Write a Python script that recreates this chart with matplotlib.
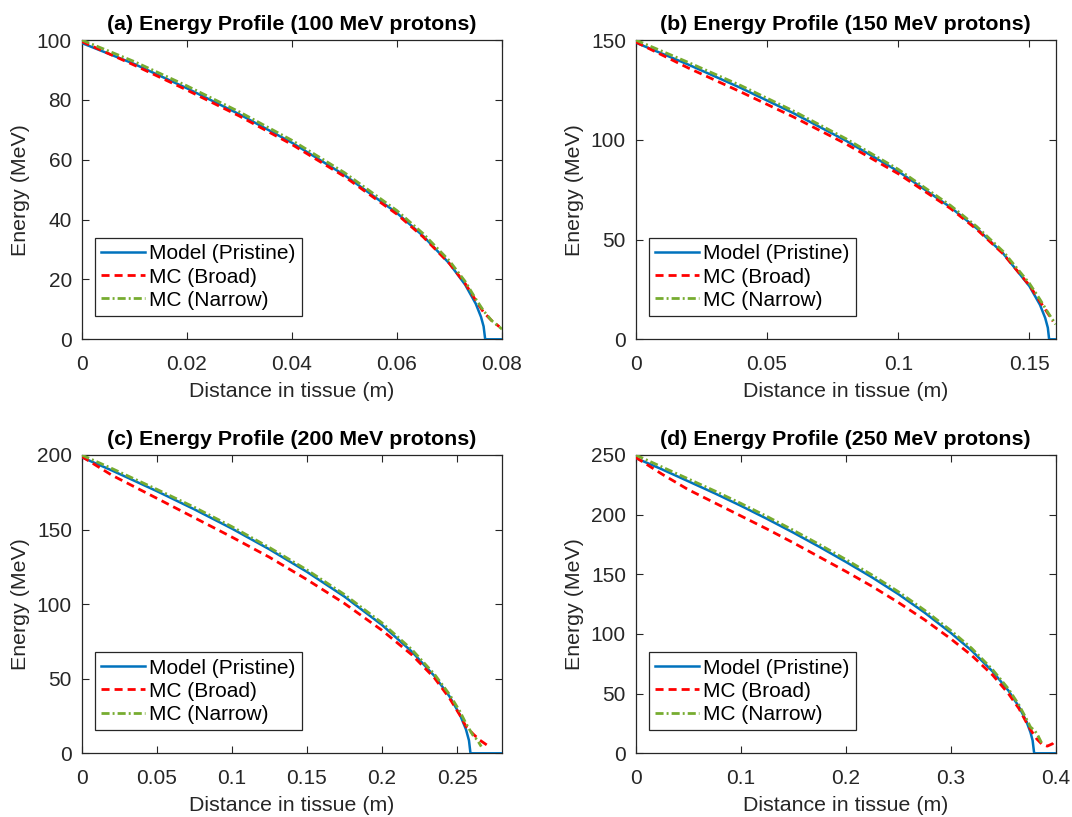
import matplotlib
matplotlib.use("Agg")
import matplotlib.pyplot as plt
from matplotlib.ticker import FuncFormatter

plt.rcParams['font.family'] = ['Liberation Sans', 'DejaVu Sans']

# ---------------- data ----------------
titles = ["(a) Energy Profile (100 MeV protons)", "(b) Energy Profile (150 MeV protons)",
          "(c) Energy Profile (200 MeV protons)", "(d) Energy Profile (250 MeV protons)"]
legend_labels = ["Model (Pristine)", "MC (Broad)", "MC (Narrow)"]

# (a) 100 MeV
a_model_x = [0, 0.01, 0.02, 0.03, 0.04, 0.05, 0.06, 0.065, 0.07, 0.073, 0.075, 0.076, 0.0765, 0.0768, 0.08]
a_model_e = [99, 92.0, 83.9, 75.2, 65.7, 54.9, 42.2, 34.5, 25.3, 18.2, 11.9, 7.5, 4.3, 0, 0]
a_broad_x = [0, 0.01, 0.02, 0.03, 0.04, 0.05, 0.06, 0.065, 0.07, 0.073, 0.075, 0.0765, 0.078, 0.0795]
a_broad_e = [99.5, 91.6, 83.3, 74.6, 65.1, 54.4, 41.8, 34.2, 25.3, 18.6, 13.0, 9.0, 6.3, 4.2]
a_narrow_x = [0, 0.01, 0.02, 0.03, 0.04, 0.05, 0.06, 0.065, 0.07, 0.073, 0.075, 0.0765, 0.078, 0.08]
a_narrow_e = [100, 92.8, 84.7, 76.0, 66.5, 55.7, 43.0, 35.3, 26.2, 19.3, 13.5, 9.5, 6.3, 3.4]

# (b) 150 MeV
b_model_x = [0, 0.02, 0.04, 0.06, 0.08, 0.1, 0.12, 0.13, 0.14, 0.15, 0.154, 0.156, 0.157, 0.1575, 0.16]
b_model_e = [148.7, 137.7, 126.0, 113.4, 99.6, 84.2, 66.1, 55.5, 43.0, 26.6, 17.3, 10.7, 5.8, 0, 0]
b_broad_x = [0, 0.02, 0.04, 0.06, 0.08, 0.1, 0.12, 0.13, 0.14, 0.15, 0.154, 0.157, 0.159]
b_broad_e = [149, 136, 124, 111.5, 98, 83, 65.5, 55, 42.8, 27, 19, 13, 9]
b_narrow_x = [0, 0.02, 0.04, 0.06, 0.08, 0.1, 0.12, 0.13, 0.14, 0.15, 0.154, 0.157, 0.16]
b_narrow_e = [150, 138.8, 127.2, 114.5, 100.6, 85.2, 67, 56.4, 44, 28, 20, 13.5, 7.5]

# (c) 200 MeV
c_model_x = [0, 0.02, 0.05, 0.075, 0.1, 0.125, 0.15, 0.175, 0.2, 0.22, 0.235, 0.245, 0.252, 0.256, 0.258, 0.259, 0.28]
c_model_e = [198.5, 189.7, 175.8, 163.6, 150.7, 136.8, 121.7, 105.1, 86.1, 68.1, 51.8, 38.2, 25.8, 16.0, 8.6, 0, 0]
c_broad_x = [0, 0.02, 0.05, 0.075, 0.1, 0.125, 0.15, 0.175, 0.2, 0.22, 0.235, 0.245, 0.252, 0.256, 0.2607, 0.265, 0.27]
c_broad_e = [199, 186.5, 171, 158, 145, 131.5, 116.5, 100.5, 82.5, 66, 50.5, 37, 25.5, 18, 13, 9, 5.5]
c_narrow_x = [0, 0.02, 0.05, 0.075, 0.1, 0.125, 0.15, 0.175, 0.2, 0.22, 0.235, 0.245, 0.252, 0.256, 0.2607, 0.2635, 0.2662]
c_narrow_e = [200, 191, 177, 165, 152, 138, 123, 106.5, 87.5, 69.5, 53, 39.5, 28, 20, 12, 9, 4.5]

# (d) 250 MeV
d_model_x = [0, 0.025, 0.05, 0.075, 0.1, 0.125, 0.15, 0.175, 0.2, 0.225, 0.25, 0.275, 0.3, 0.32, 0.34,
             0.355, 0.365, 0.372, 0.376, 0.378, 0.3795, 0.4]
d_model_e = [247.5, 238, 228, 218, 207.5, 196.5, 185, 173, 160.5, 147.5, 133.5, 118, 101, 86, 68.5,
             52.5, 39, 27, 17.5, 10.8, 0, 0]
d_broad_x = [0, 0.025, 0.05, 0.075, 0.1, 0.125, 0.15, 0.175, 0.2, 0.225, 0.25, 0.275, 0.3, 0.32, 0.34,
             0.355, 0.365, 0.372, 0.377, 0.382, 0.387, 0.392, 0.397, 0.4]
d_broad_e = [248, 234, 221, 210, 199, 188, 176.5, 164.5, 152.5, 140, 126.5, 112, 96, 82, 65.5,
             50, 37.5, 26, 18.5, 12, 7.5, 6, 8, 11]
d_narrow_x = [0, 0.025, 0.05, 0.075, 0.1, 0.125, 0.15, 0.175, 0.2, 0.225, 0.25, 0.275, 0.3, 0.32, 0.34,
              0.355, 0.365, 0.372, 0.376, 0.380, 0.383, 0.387]
d_narrow_e = [250, 240, 230, 220, 209.5, 198.5, 187, 175, 162.5, 149.5, 135.5, 120, 103, 88, 70,
              54, 40.5, 29, 22, 19, 15, 8]

xlims = [(0, 0.08), (0, 0.16), (0, 0.28), (0, 0.4)]
ylims = [(0, 100), (0, 150), (0, 200), (0, 250)]
xticks = [[0, 0.02, 0.04, 0.06, 0.08], [0, 0.05, 0.1, 0.15],
          [0, 0.05, 0.1, 0.15, 0.2, 0.25], [0, 0.1, 0.2, 0.3, 0.4]]
yticks = [[0, 20, 40, 60, 80, 100], [0, 50, 100, 150], [0, 50, 100, 150, 200], [0, 50, 100, 150, 200, 250]]

series = [
    (a_model_x, a_model_e, a_broad_x, a_broad_e, a_narrow_x, a_narrow_e),
    (b_model_x, b_model_e, b_broad_x, b_broad_e, b_narrow_x, b_narrow_e),
    (c_model_x, c_model_e, c_broad_x, c_broad_e, c_narrow_x, c_narrow_e),
    (d_model_x, d_model_e, d_broad_x, d_broad_e, d_narrow_x, d_narrow_e),
]

# ---------------- figure ----------------
W, H = 1072, 817
fig = plt.figure(figsize=(W / 100, H / 100), dpi=100)

boxes = [(81.7, 40, 502, 339.3), (635.7, 40, 1055.7, 339.3),
         (81.7, 455, 502, 753.3), (635.7, 455, 1055.7, 753.3)]

dark = '#262626'
blue = '#0072BD'
red = '#FF0000'
green = '#77AC30'
fmt = FuncFormatter(lambda v, p: f"{v:g}")

for i, (l, t, r, b) in enumerate(boxes):
    ax = fig.add_axes([l / W, 1 - b / H, (r - l) / W, (b - t) / H])
    mx, me, bx, be, nx, ne = series[i]
    ax.plot(mx, me, color=blue, lw=1.8, label=legend_labels[0], zorder=3)
    ax.plot(bx, be, color=red, lw=2.0, dashes=(2.9, 1.8), label=legend_labels[1], zorder=4)
    ax.plot(nx, ne, color=green, lw=2.0, dashes=(2.9, 1.1, 0.7, 1.1), label=legend_labels[2], zorder=5)
    ax.set_xlim(*xlims[i])
    ax.set_ylim(*ylims[i])
    ax.set_xticks(xticks[i])
    ax.set_yticks(yticks[i])
    ax.xaxis.set_major_formatter(fmt)
    ax.yaxis.set_major_formatter(fmt)
    ax.tick_params(direction='in', length=5, width=0.8, colors=dark, labelsize=15,
                   top=True, right=True)
    ax.tick_params(axis='x', pad=11)
    ax.tick_params(axis='y', pad=7)
    for s in ax.spines.values():
        s.set_color(dark)
        s.set_linewidth(0.9)
    ax.set_xlabel("Distance in tissue (m)", fontsize=15.4, color=dark, labelpad=6)
    ax.set_ylabel("Energy (MeV)", fontsize=15.4, color=dark, labelpad=5)
    ax.set_title(titles[i], fontsize=15.4, fontweight='bold', color='black', pad=7)
    leg = ax.legend(loc='lower left', bbox_to_anchor=(0.0316, 0.0778), borderaxespad=0,
                    fontsize=15, handlelength=2.1, handletextpad=0.2, labelspacing=0.2,
                    borderpad=0.3, fancybox=False, framealpha=1, edgecolor=dark)
    leg.get_frame().set_linewidth(0.9)
    for txt in leg.get_texts():
        txt.set_color('black')

fig.savefig("out.png", dpi=100)
